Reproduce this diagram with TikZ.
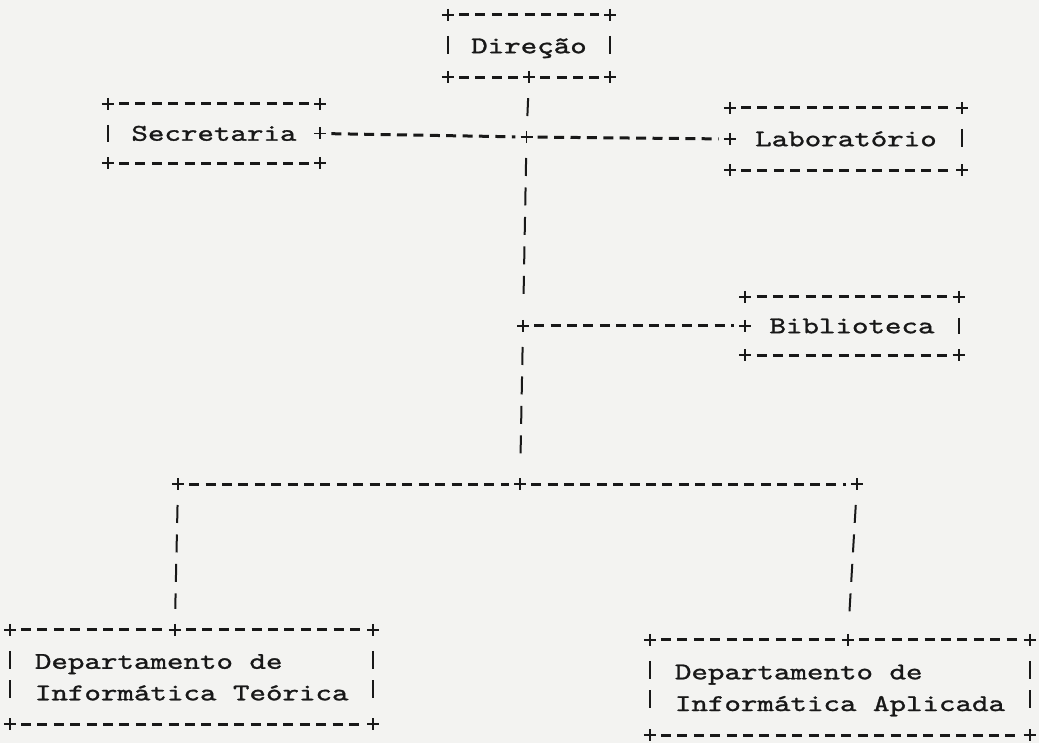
\documentclass[tikz,border=0pt]{standalone}
\usepackage{fontspec}
\usetikzlibrary{calc}
\newfontfamily\twfont{lmmono10-regular.otf}[FakeStretch=1.31,FakeBold=1.2]
\definecolor{ink}{HTML}{181818}
\definecolor{paper}{HTML}{F3F3F1}
\tikzset{
  crossmark/.pic={\draw[ink, line width=1.8pt] (-6,0) -- (6,0) (0,-6) -- (0,6);},
  lbl/.style={font=\twfont\fontsize{24}{31}\selectfont, text=ink, inner sep=0pt},
  box/.style={lbl, rectangle, text height=14.5pt, text depth=0pt},
  hd/.style={draw=ink, line width=3pt, dash pattern=on 10pt off 6.4pt, shorten <=11.2pt, shorten >=11.2pt},
  vd/.style={draw=ink, line width=2pt, dash pattern=on 18pt off 11.5pt, shorten <=21pt, shorten >=21pt}
}
\begin{document}
\begin{tikzpicture}[x=1pt,y=-1pt]
\fill[paper] (0,0) rectangle (1039,743);
\useasboundingbox (0,0) rectangle (1039,743);

% boxes
\node[box, minimum width=162pt, minimum height=62pt] (dir) at (529,46) {Direção};
\node[box, minimum width=212pt, minimum height=59pt] (sec) at (214,133.5) {Secretaria};
\node[box, minimum width=232pt, minimum height=62pt] (lab) at (846,139) {Laboratório};
\node[box, minimum width=213pt, minimum height=58pt] (bib) at (852,326) {Biblioteca};
\node[box, minimum width=363pt, minimum height=94pt] (teo) at (191.5,677) {};
\node[box, minimum width=379.5pt, minimum height=95pt] (apl) at (839.75,687.5) {};
\node[lbl, anchor=base west] (teo1) at (34.75,668.8) {Departamento de};
\node[lbl, anchor=base west] (teo2) at (34.75,700.3) {Informática Teórica};
\node[lbl, anchor=base west] (apl1) at (674.75,679.3) {Departamento de};
\node[lbl, anchor=base west] (apl2) at (674.75,711) {Informática Aplicada};

% junctions
\coordinate (dj) at (dir.south);
\coordinate (j1) at (526.5,137);
\coordinate (j2) at (523,326);
\coordinate (j3) at (520,484);
\coordinate (jl) at (178,484);
\coordinate (jr) at (857,484);
\coordinate (tj) at ($(teo.north west)+(165,0)$);
\coordinate (aj) at ($(apl.north west)+(198,0)$);

% Direcao outline
\draw[hd] (dir.north west) -- (dir.north east);
\draw[hd] (dir.south west) -- (dj);
\draw[hd] (dj) -- (dir.south east);
\draw[vd] (dir.north west) -- (dir.south west);
\draw[vd] (dir.north east) -- (dir.south east);
% Secretaria outline
\draw[hd] (sec.north west) -- (sec.north east);
\draw[hd] (sec.south west) -- (sec.south east);
\draw[vd] (sec.north west) -- (sec.south west);
% Laboratorio outline
\draw[hd] (lab.north west) -- (lab.north east);
\draw[hd] (lab.south west) -- (lab.south east);
\draw[vd] (lab.north east) -- (lab.south east);
% Biblioteca outline
\draw[hd] (bib.north west) -- (bib.north east);
\draw[hd] (bib.south west) -- (bib.south east);
\draw[vd] (bib.north east) -- (bib.south east);
% Teorica outline
\draw[hd] (teo.north west) -- (tj);
\draw[hd] (tj) -- (teo.north east);
\draw[hd] (teo.south west) -- (teo.south east);
\draw[vd] (teo.north west) -- (teo.south west);
\draw[vd] (teo.north east) -- (teo.south east);
% Aplicada outline
\draw[hd] (apl.north west) -- (aj);
\draw[hd] (aj) -- (apl.north east);
\draw[hd] (apl.south west) -- (apl.south east);
\draw[vd] (apl.north west) -- (apl.south west);
\draw[vd] (apl.north east) -- (apl.south east);

% connectors
\draw[vd] (dj) -- (j1);
\draw[vd] (j1) -- (j2);
\draw[vd] (j2) -- (j3);
\draw[hd] (sec.east) -- (j1);
\draw[hd] (j1) -- (lab.west);
\draw[hd] (j2) -- (bib.west);
\draw[hd] (jl) -- (j3);
\draw[hd] (j3) -- (jr);
\draw[vd] (jl) -- (tj);
\draw[vd] (jr) -- (aj);

% plus marks
\foreach \p in {dir.north west, dir.north east, dir.south west, dir.south east, dj,
  sec.north west, sec.north east, sec.south west, sec.south east, sec.east,
  lab.north west, lab.north east, lab.south west, lab.south east, lab.west,
  bib.north west, bib.north east, bib.south west, bib.south east, bib.west,
  teo.north west, teo.north east, teo.south west, teo.south east, tj,
  apl.north west, apl.north east, apl.south west, apl.south east, aj,
  j1, j2, j3, jl, jr}
  \pic at (\p) {crossmark};
\end{tikzpicture}
\end{document}
